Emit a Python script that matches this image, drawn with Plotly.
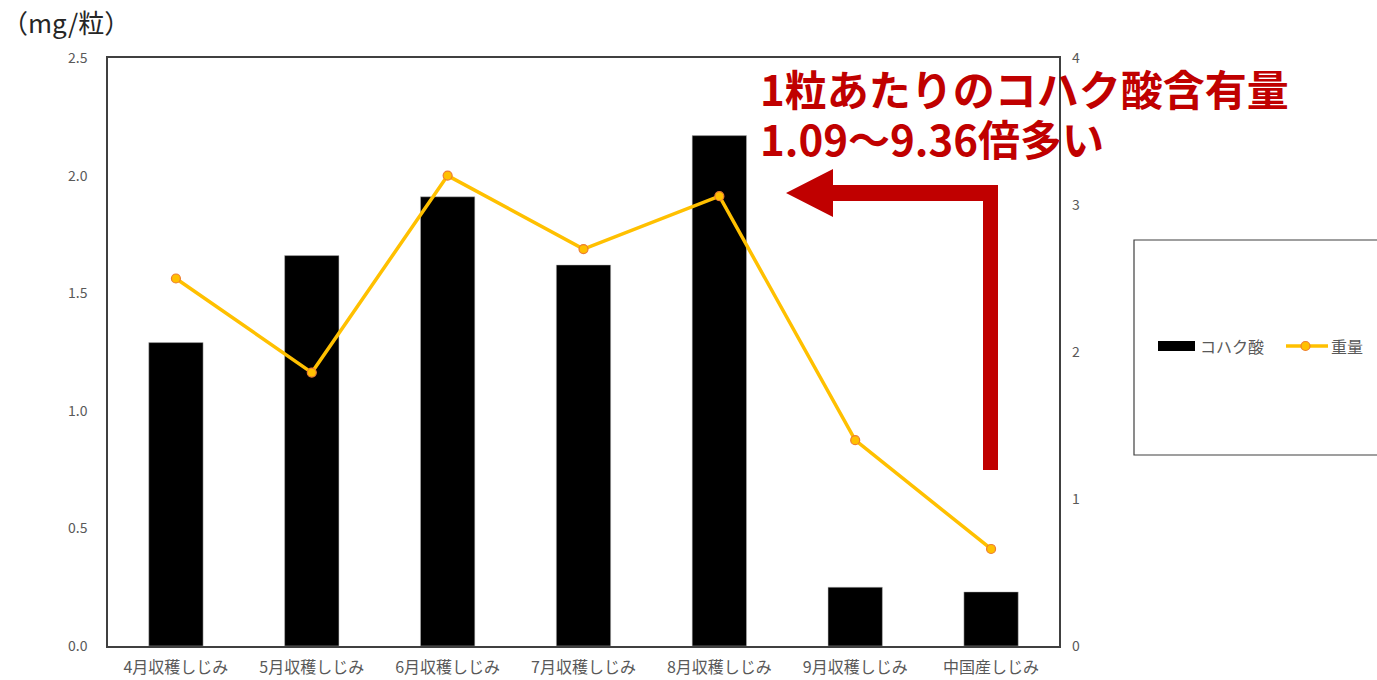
import plotly.graph_objects as go

categories = ["4月収穫しじみ", "5月収穫しじみ", "6月収穫しじみ", "7月収穫しじみ",
              "8月収穫しじみ", "9月収穫しじみ", "中国産しじみ"]
succinic = [1.29, 1.66, 1.91, 1.62, 2.17, 0.25, 0.23]
weight = [2.50, 1.86, 3.20, 2.70, 3.06, 1.40, 0.66]
series_names = ["コハク酸", "重量"]

W, H = 1377, 680
L, R, T, B = 108, 1059, 58, 646
pw, ph = R - L, B - T

def px(x):
    return (x - L) / pw

def py(y):
    return (B - y) / ph

FONT = "Noto Sans CJK JP"
GRAY = "#595959"
LINE_C = "#FFC000"
MARK_EDGE = "#ED7D31"

fig = go.Figure()
fig.add_trace(go.Bar(
    x=categories, y=succinic, name=series_names[0],
    marker=dict(color="black", line=dict(color="#bfbfbf", width=0.5)),
    width=0.4, yaxis="y", showlegend=False,
))
fig.add_trace(go.Scatter(
    x=categories, y=weight, name=series_names[1], yaxis="y2",
    mode="lines+markers",
    line=dict(color=LINE_C, width=3.5),
    marker=dict(color=LINE_C, size=9, line=dict(color=MARK_EDGE, width=1.2)),
    showlegend=False,
))

shapes = [
    # legend box
    dict(type="rect", xref="paper", yref="paper",
         x0=px(1134), x1=px(1390), y0=py(455), y1=py(240),
         line=dict(color="#404040", width=1.2), fillcolor="white", layer="below"),
    # legend swatches
    dict(type="rect", xref="paper", yref="paper",
         x0=px(1158), x1=px(1195), y0=py(351), y1=py(341),
         line=dict(width=0), fillcolor="black"),
    dict(type="line", xref="paper", yref="paper",
         x0=px(1286), x1=px(1328), y0=py(346), y1=py(346),
         line=dict(color=LINE_C, width=3.5)),
    dict(type="circle", xref="paper", yref="paper",
         x0=px(1301), x1=px(1310), y0=py(350.5), y1=py(341.5),
         line=dict(color=MARK_EDGE, width=1.2), fillcolor=LINE_C),
    # red arrow
    dict(type="path", xref="paper", yref="paper",
         path=("M {a},{b} L {c},{d} L {c},{e} L {f},{e} L {f},{g} L {h},{g} "
               "L {h},{i} L {c},{i} L {c},{j} Z").format(
             a=px(786), b=py(193),
             c=px(833), d=py(169),
             e=py(185), f=px(998),
             g=py(470), h=px(983),
             i=py(201), j=py(217)),
         fillcolor="#C00000", line=dict(color="#C00000", width=0)),
]

annotations = [
    dict(text="（mg/粒）", xref="paper", yref="paper", x=px(0), y=py(22),
         xanchor="left", yanchor="middle", showarrow=False,
         font=dict(family=FONT, size=26, color="#262626")),
    dict(text="1粒あたりのコハク酸含有量", xref="paper", yref="paper",
         x=px(758), y=py(87), xanchor="left", yanchor="middle", align="left",
         showarrow=False,
         font=dict(family=FONT, size=42, color="#C00000", weight="bold")),
    dict(text="1.09～9.36倍多い", xref="paper", yref="paper",
         x=px(758), y=py(137), xanchor="left", yanchor="middle", align="left",
         showarrow=False,
         font=dict(family=FONT, size=42, color="#C00000", weight="bold")),
    dict(text=series_names[0], xref="paper", yref="paper",
         x=px(1198), y=py(346), xanchor="left", yanchor="middle", showarrow=False,
         font=dict(family=FONT, size=16, color=GRAY)),
    dict(text=series_names[1], xref="paper", yref="paper",
         x=px(1329), y=py(346), xanchor="left", yanchor="middle", showarrow=False,
         font=dict(family=FONT, size=16, color=GRAY)),
]

fig.update_layout(
    width=W, height=H,
    margin=dict(l=L, r=W - R, t=T, b=H - B, pad=0),
    paper_bgcolor="white", plot_bgcolor="white",
    font=dict(family=FONT, color=GRAY),
    bargap=0.6,
    showlegend=False,
    xaxis=dict(showgrid=False, showline=True, mirror=True, linecolor="#404040", linewidth=1.5,
               ticks="", tickfont=dict(size=16, color=GRAY, family=FONT),
               ticklabelstandoff=6, automargin=False),
    yaxis=dict(range=[0, 2.5], tickvals=[0, 0.5, 1.0, 1.5, 2.0, 2.5], tickformat=".1f",
               showgrid=False, showline=True, mirror=True, linecolor="#404040", linewidth=1.5,
               ticks="", zeroline=False, tickfont=dict(size=14, color=GRAY, family=FONT),
               ticklabelstandoff=16, automargin=False),
    yaxis2=dict(range=[0, 4], tickvals=[0, 1, 2, 3, 4], overlaying="y", side="right",
                showgrid=False, showline=False, zeroline=False, ticks="",
                tickfont=dict(size=14, color=GRAY, family=FONT), ticklabelstandoff=12,
                automargin=False),
    shapes=shapes,
    annotations=annotations,
)

fig.write_html("out.html")
